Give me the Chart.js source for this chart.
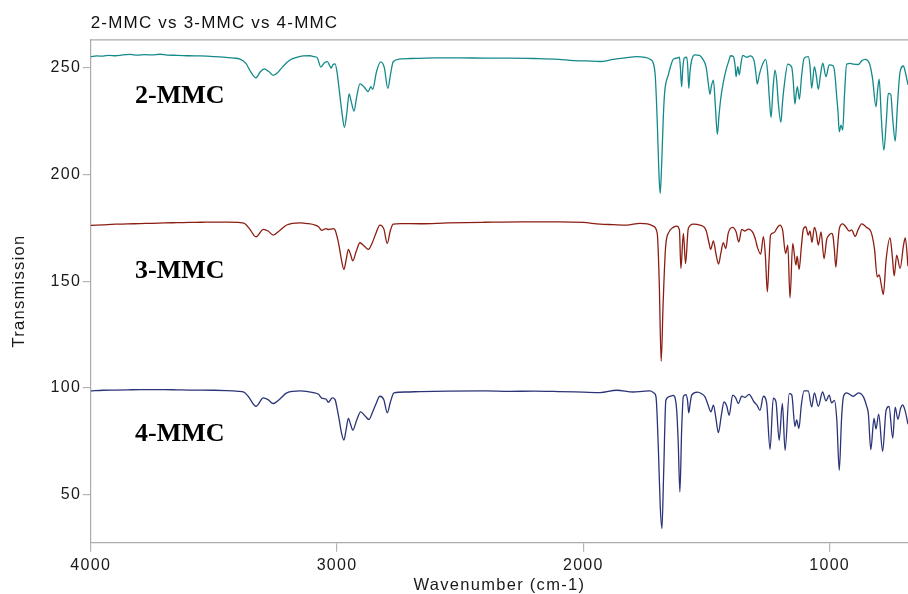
<!DOCTYPE html>
<html>
<head>
<meta charset="utf-8">
<script src="https://cdn.jsdelivr.net/npm/chart.js@4.4.1/dist/chart.umd.min.js"></script>
<style>
  html, body { margin: 0; padding: 0; background: #ffffff; overflow: hidden; }
  #wrap { width: 908px; height: 594px; }
</style>
</head>
<body>
<div id="wrap"><canvas id="c" width="908" height="594"></canvas></div>
<script>
// ---------- data ----------
const chartTitle = '2-MMC vs 3-MMC vs 4-MMC';
const sampleNames = ['2-MMC', '3-MMC', '4-MMC'];
const xTicks = [4000, 3000, 2000, 1000];
const yTicks = [50, 100, 150, 200, 250];

const mmc2Wavenumber = [4000,3975,3950,3925,3900,3870,3840,3810,3780,3750,3719,3690,3650,3600,3556,3500,3450,3420,3394,3370,3350,3329,3312,3295,3278,3259,3240,3220,3191,3160,3137,3110,3096,3080,3066,3050,3039,3030,3024,3016,3008,3000,2991,2980,2970,2960,2951,2942,2931,2920,2907,2890,2873,2863,2855,2840,2823,2808,2794,2782,2772,2744,2700,2663,2600,2500,2400,2300,2200,2100,2040,1990,1932,1878,1830,1783,1750,1729,1716,1708,1700,1693,1688,1682,1675,1669,1655,1645,1635,1620,1610,1606,1601,1596,1591,1580,1576,1572,1567,1560,1547,1529,1515,1502,1492,1486,1480,1472,1464,1456,1449,1442,1432,1421,1410,1402,1391,1384,1380,1373,1367,1360,1353,1337,1323,1307,1300,1294,1285,1276,1260,1252,1245,1238,1230,1222,1215,1209,1198,1192,1185,1170,1154,1148,1141,1136,1131,1123,1114,1104,1087,1080,1073,1062,1054,1046,1037,1028,1015,1002,985,978,972,966,961,954,947,940,931,915,904,884,870,857,839,826,812,805,799,790,780,770,762,752,744,734,725,715,701,693,682];
const mmc2Transmission = [255.2,255.5,255.4,255.8,255.6,256.0,256.2,255.9,256.1,256.0,256.3,255.9,255.8,255.6,255.5,255.2,254.8,254.5,254.0,252.0,248.0,245.3,248.0,249.4,248.3,246.4,247.8,250.5,253.6,255.0,255.5,255.6,255.2,254.6,250.3,252.4,252.8,251.0,249.8,251.5,251.8,248.0,239.5,229.0,222.1,229.0,237.7,234.0,229.7,236.5,242.4,241.0,238.8,241.1,239.9,248.0,252.7,250.0,240.3,247.5,252.8,254.1,254.3,254.4,254.6,254.6,254.5,254.5,254.3,253.9,253.3,253.2,252.9,253.9,254.6,255.2,254.8,254.0,252.1,246.0,225.0,200.0,191.1,205.0,228.0,239.5,246.6,251.0,253.9,254.5,254.9,250.0,241.1,250.0,254.4,254.9,250.0,240.3,248.0,253.6,256.0,255.8,254.0,250.5,242.0,237.5,241.5,244.2,232.0,218.8,228.0,235.7,243.0,248.9,253.0,255.6,255.2,251.0,245.8,250.5,246.6,252.0,255.8,254.9,255.5,253.3,248.0,242.4,247.0,250.5,253.9,248.1,236.0,226.7,240.0,248.9,244.0,234.2,224.4,233.0,241.1,251.7,250.2,244.0,233.0,238.0,241.1,235.2,246.0,254.4,255.2,251.0,240.3,250.5,246.0,239.9,247.0,252.1,245.8,251.3,250.8,246.0,237.2,229.0,220.0,223.1,220.8,237.0,251.7,252.0,251.7,251.5,253.2,253.9,252.1,245.0,231.7,240.0,244.6,226.0,211.4,225.0,238.0,237.5,226.0,215.6,232.0,247.4,250.8,248.0,242.0];

const mmc3Wavenumber = [4000,3950,3900,3850,3800,3750,3700,3650,3600,3550,3500,3450,3400,3375,3355,3329,3299,3280,3259,3235,3204,3150,3120,3089,3075,3062,3045,3035,3015,3008,2999,2991,2982,2972,2963,2954,2945,2936,2922,2907,2890,2873,2859,2842,2826,2810,2796,2784,2772,2740,2663,2550,2400,2250,2100,2000,1932,1880,1824,1770,1740,1716,1700,1692,1684,1676,1666,1652,1635,1621,1610,1604,1594,1585,1574,1554,1527,1502,1490,1483,1472,1462,1451,1442,1432,1422,1412,1394,1380,1369,1357,1344,1330,1310,1300,1294,1280,1269,1261,1253,1246,1240,1226,1213,1202,1191,1179,1170,1161,1150,1137,1132,1124,1115,1107,1097,1087,1080,1072,1062,1055,1046,1035,1023,1012,1006,992,987,981,975,968,961,947,935,920,911,896,885,870,850,832,818,807,799,790,782,771,755,746,738,728,714,700,693,682];
const mmc3Transmission = [176.1,176.4,176.7,176.8,177.0,177.1,177.3,177.4,177.5,177.6,177.7,177.7,177.5,177.0,174.5,170.8,174.3,173.5,171.6,173.5,176.3,177.3,177.0,176.3,175.5,173.8,174.6,174.2,174.6,174.0,170.5,166.1,160.0,155.5,160.0,164.9,162.5,159.5,164.0,168.0,166.5,164.9,167.4,172.5,176.3,174.5,167.7,173.5,176.7,177.0,176.9,177.3,177.6,177.8,177.8,177.5,176.7,176.5,176.3,177.1,176.8,175.8,172.4,150.0,112.5,140.0,166.1,173.1,175.2,175.8,174.0,156.0,172.4,158.3,174.7,176.7,176.3,173.9,168.0,164.9,168.9,163.0,158.0,163.0,168.0,165.3,172.4,175.2,173.1,168.4,174.3,173.5,174.4,172.4,169.0,166.1,162.7,170.8,162.0,145.0,160.0,171.6,172.7,175.0,176.3,173.9,163.0,166.9,142.2,167.7,157.5,161.7,155.5,166.0,174.3,175.5,171.6,173.5,168.2,175.2,173.0,166.9,173.1,160.5,169.6,171.1,172.4,171.5,165.0,156.5,166.0,174.5,176.8,175.5,173.4,174.0,171.0,174.0,176.8,175.2,173.1,165.0,152.0,153.0,148.0,143.8,159.9,170.3,162.0,152.5,162.2,156.0,167.0,170.3,157.0];

const mmc4Wavenumber = [4000,3950,3900,3850,3800,3759,3700,3650,3600,3550,3500,3450,3400,3380,3360,3329,3299,3280,3259,3235,3204,3150,3096,3075,3062,3045,3035,3019,3008,2999,2991,2982,2972,2963,2954,2945,2936,2920,2904,2887,2870,2859,2842,2826,2810,2796,2783,2769,2720,2663,2550,2400,2300,2200,2100,2000,1932,1865,1797,1760,1729,1712,1705,1695,1688,1681,1674,1665,1648,1635,1627,1621,1615,1608,1601,1594,1583,1577,1572,1566,1560,1537,1520,1506,1495,1482,1472,1462,1452,1440,1429,1418,1408,1394,1382,1371,1357,1344,1327,1307,1295,1283,1269,1256,1242,1229,1218,1205,1192,1181,1164,1154,1141,1134,1125,1115,1104,1087,1073,1062,1046,1029,1015,1002,992,981,971,961,952,944,931,904,883,863,850,843,833,820,812,801,785,771,759,744,734,723,712,704,694,682];
const mmc4Transmission = [98.6,98.9,99.0,99.1,99.2,99.2,99.2,99.1,99.0,99.0,98.9,98.7,98.4,98.1,96.0,91.4,95.3,94.5,92.7,94.5,97.7,98.6,97.8,97.0,95.2,94.8,93.3,95.3,94.5,90.0,85.0,79.0,75.6,80.5,85.7,83.0,80.2,85.0,88.8,87.0,85.2,87.7,92.5,96.1,94.5,88.3,93.5,97.7,98.1,98.3,98.5,98.6,98.4,98.5,98.3,98.0,97.8,98.9,98.1,98.4,98.6,97.5,95.8,70.0,45.0,34.1,60.0,94.2,96.1,96.5,95.0,89.5,75.0,51.3,80.0,96.1,96.8,94.0,88.3,93.0,96.6,98.0,97.3,95.8,92.5,88.8,91.9,86.0,79.1,87.0,93.4,91.5,87.2,96.6,95.5,92.7,96.1,95.6,97.0,93.4,92.0,89.5,96.1,93.0,71.2,95.2,93.5,75.5,92.7,70.8,97.3,96.8,82.0,85.0,81.0,92.0,98.6,98.6,91.1,97.7,91.4,98.1,93.9,96.6,93.0,94.2,85.0,61.4,85.0,96.0,97.7,96.1,97.7,95.8,91.5,88.0,71.1,85.7,80.8,87.7,70.3,89.5,91.3,76.5,91.0,85.3,90.5,92.0,89.5,83.0];

// ---------- build datasets ----------
function pairs(xs, ys) { return xs.map((x, i) => ({ x: x, y: ys[i] })); }
const seriesColors = ['#13898a', '#8c1d12', '#2a3477'];
const seriesData = [
  pairs(mmc2Wavenumber, mmc2Transmission),
  pairs(mmc3Wavenumber, mmc3Transmission),
  pairs(mmc4Wavenumber, mmc4Transmission)
];

const FONT = '"Liberation Sans", Arial, Helvetica, sans-serif';
const TEXT_SPACING = '1.3px';

const decorPlugin = {
  id: 'decor',
  beforeDraw(chart) {
    chart.ctx.letterSpacing = TEXT_SPACING;
  },
  afterDraw(chart, args, opts) {
    const ctx = chart.ctx;
    const area = chart.chartArea;
    const xs = chart.scales.x, ys = chart.scales.y;
    ctx.save();
    // top frame line
    ctx.strokeStyle = '#ababab';
    ctx.lineWidth = 1.2;
    ctx.beginPath();
    ctx.moveTo(area.left, area.top + 0.5);
    ctx.lineTo(area.right, area.top + 0.5);
    ctx.stroke();
    // chart title
    ctx.letterSpacing = '1.2px';
    ctx.fillStyle = '#111';
    ctx.font = '17px ' + FONT;
    ctx.textAlign = 'left';
    ctx.textBaseline = 'alphabetic';
    ctx.fillText(chartTitle, area.left, 27.5);
    // sample labels inside the plot
    ctx.letterSpacing = '0px';
    ctx.font = 'bold 26px "Liberation Serif", "Times New Roman", serif';
    ctx.fillStyle = '#000';
    opts.labels.forEach((lab, i) => {
      ctx.fillText(sampleNames[i], xs.getPixelForValue(lab.x), ys.getPixelForValue(lab.y));
    });
    ctx.restore();
  }
};

new Chart(document.getElementById('c'), {
  type: 'line',
  data: {
    datasets: sampleNames.map((name, i) => ({
      label: name,
      data: seriesData[i],
      borderColor: seriesColors[i],
      backgroundColor: seriesColors[i],
      borderWidth: 1.3,
      pointRadius: 0,
      cubicInterpolationMode: 'monotone',
      fill: false
    }))
  },
  options: {
    responsive: false,
    animation: false,
    devicePixelRatio: 1,
    layout: { padding: { top: 39.3, left: 0, right: 0, bottom: 0 } },
    plugins: {
      legend: { display: false },
      tooltip: { enabled: false },
      title: { display: false },
      decor: {
        labels: [
          { x: 3820, y: 233.3 },
          { x: 3820, y: 151.6 },
          { x: 3820, y: 75.2 }
        ]
      }
    },
    scales: {
      x: {
        type: 'linear',
        reverse: true,
        min: 682,
        max: 4000,
        afterFit(s) { s.height = 51.3; },
        afterBuildTicks(s) { s.ticks = xTicks.map(v => ({ value: v })); },
        grid: { drawOnChartArea: false, drawTicks: true, tickLength: 9, color: '#b5b5b5', lineWidth: 1.2 },
        border: { color: '#ababab', width: 1.2 },
        ticks: { color: '#1a1a1a', font: { family: FONT, size: 16 }, padding: 4, maxRotation: 0, autoSkip: false, callback: v => String(v) },
        title: { display: true, text: 'Wavenumber (cm-1)', color: '#1a1a1a', font: { family: FONT, size: 16.5, lineHeight: 1 }, padding: { top: 0, bottom: 0.5 } }
      },
      y: {
        type: 'linear',
        min: 27.5,
        max: 263.3,
        afterFit(s) { s.width = 90.7; },
        afterBuildTicks(s) { s.ticks = yTicks.map(v => ({ value: v })); },
        grid: { drawOnChartArea: false, drawTicks: true, tickLength: 8, color: '#b5b5b5', lineWidth: 1.2 },
        border: { color: '#ababab', width: 1.2 },
        ticks: { color: '#1a1a1a', font: { family: FONT, size: 16 }, padding: 1.5, callback: v => String(v) },
        title: { display: true, text: 'Transmission', color: '#1a1a1a', font: { family: FONT, size: 16.5, lineHeight: 1 }, padding: { top: 11, bottom: 0 } }
      }
    }
  },
  plugins: [decorPlugin]
});
</script>
</body>
</html>
